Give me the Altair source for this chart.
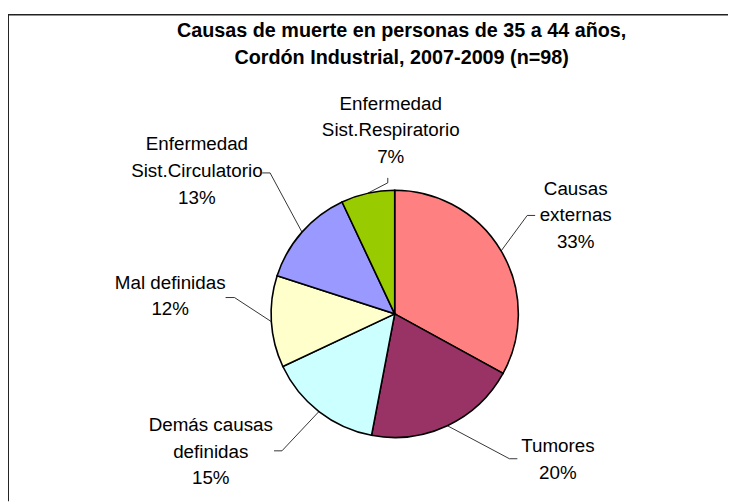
import math
import altair as alt
import pandas as pd

# ---- data ----
categorias = ["Causas externas", "Tumores", "Demás causas definidas", "Mal definidas",
              "Enfermedad Sist.Circulatorio", "Enfermedad Sist.Respiratorio"]
porcentajes = [33, 20, 15, 12, 13, 7]
etiquetas = ["Causas\nexternas", "Tumores", "Demás causas\ndefinidas", "Mal definidas",
             "Enfermedad\nSist.Circulatorio", "Enfermedad\nSist.Respiratorio"]
colores = ["#FF8080", "#993366", "#CCFFFF", "#FFFFCC", "#9999FF", "#99CC00"]
titulo = ["Causas de muerte en personas de 35 a 44 años,",
          "Cordón Industrial, 2007-2009 (n=98)"]

# ---- layout (pixels) ----
W, H = 728, 496
CX, CY, R = 391, 306.5, 125
LH = 27
label_offset = [(183, -99.5), (165, 147.5), (-186, 139.5), (-227, -18), (-200, -144.5), (-4, -185.5)]
leader_end = [(142, -99.5), (124, 146.5), (-122, 138.5), (-171, -16.5), (-134, -142.5), (-7, -137.5)]
leader_elbow = [(-8, 0), (-8, 0), (8, 0), (9, 0), (8, 0), (0, 5)]
FONT = "Liberation Sans, Arial, sans-serif"

pie_df = pd.DataFrame({"cat": categorias, "pct": porcentajes, "idx": list(range(len(categorias)))})

total = sum(porcentajes)
lab_rows, line_rows = [], []
cum = 0
for i, (c, p, e) in enumerate(zip(categorias, porcentajes, etiquetas)):
    mid = (cum + p / 2) / total * 2 * math.pi
    cum += p
    sx, sy = CX + R * math.sin(mid), CY - R * math.cos(mid)
    ex, ey = CX + leader_end[i][0], CY + leader_end[i][1]
    bx, by = ex + leader_elbow[i][0], ey + leader_elbow[i][1]
    for k, (x, y) in enumerate([(sx, sy), (bx, by), (ex, ey)]):
        line_rows.append({"cat": c, "k": k, "x": x, "y": y})
    txt = f"{e}\n{p}%"
    n = txt.count("\n") + 1
    lab_rows.append({"cat": c, "text": txt,
                     "x": CX + label_offset[i][0],
                     "y": CY + label_offset[i][1] - (n - 1) / 2 * LH})
lab_df = pd.DataFrame(lab_rows)
line_df = pd.DataFrame(line_rows)
one = pd.DataFrame({"t": ["\n".join(titulo)]})

pie = alt.Chart(pie_df).mark_arc(radius=R, stroke="black", strokeWidth=1.6).encode(
    theta=alt.Theta("pct:Q", stack=True),
    color=alt.Color("cat:N", scale=alt.Scale(domain=categorias, range=colores), legend=None),
    order=alt.Order("idx:Q"),
    x=alt.value(CX), y=alt.value(CY),
)

leaders = alt.Chart(line_df).mark_line(color="black", strokeWidth=0.8).encode(
    x=alt.X("x:Q", scale=None, axis=None),
    y=alt.Y("y:Q", scale=None, axis=None),
    detail="cat:N",
    order="k:Q",
)

labels = alt.Chart(lab_df).mark_text(
    font=FONT, fontSize=19, lineBreak="\n", lineHeight=LH, align="center",
    baseline="middle", color="black",
).encode(
    x=alt.X("x:Q", scale=None, axis=None),
    y=alt.Y("y:Q", scale=None, axis=None),
    text="text:N",
)

title = alt.Chart(one).mark_text(
    font=FONT, fontSize=20, fontWeight="bold", lineBreak="\n", lineHeight=26.5,
    align="center", baseline="alphabetic", color="black",
).encode(x=alt.value(398), y=alt.value(27), text="t:N")

frame_top = alt.Chart(pd.DataFrame({"a": [0]})).mark_rule(color="#222", strokeWidth=1.5).encode(
    x=alt.value(0), x2=alt.value(W), y=alt.value(4))
frame_left = alt.Chart(pd.DataFrame({"a": [0]})).mark_rule(color="#222", strokeWidth=2).encode(
    x=alt.value(0), y=alt.value(4), y2=alt.value(H))

chart = alt.layer(frame_top, frame_left, pie, leaders, labels, title).properties(
    width=W, height=H, autosize=alt.AutoSizeParams(type="none"), padding=0,
    background="white",
).configure_view(stroke=None)

chart.save("out.html", embed_options={"renderer": "svg", "actions": False})
